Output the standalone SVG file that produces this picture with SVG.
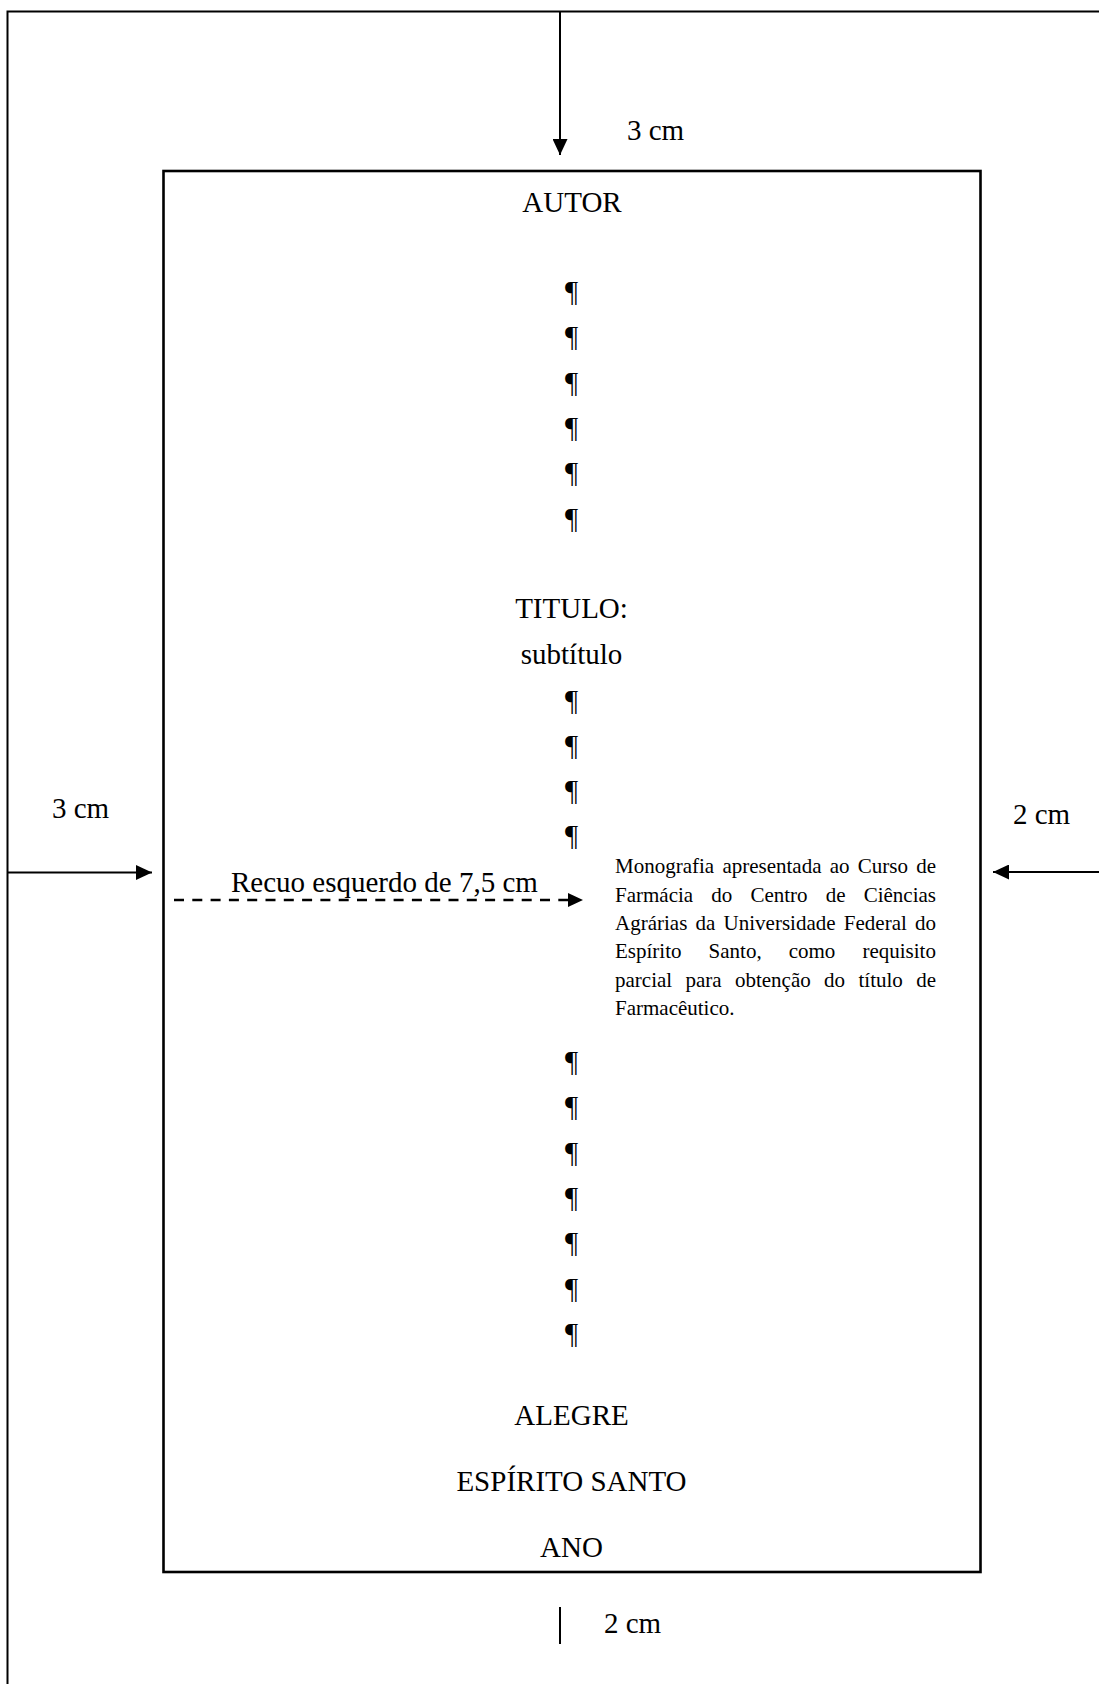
<svg xmlns="http://www.w3.org/2000/svg" width="1099" height="1684" viewBox="0 0 1099 1684">
  <style>
    .t { font-family: "Liberation Serif", "Times New Roman", serif; fill: #000; }
    .big { font-size: 29px; text-anchor: middle; }
    .lbl { font-size: 29px; }
    .pil { font-size: 29px; text-anchor: middle; }
    .small { font-size: 21px; }
    .ln { stroke: #000; stroke-width: 2; fill: none; }
  </style>
  <defs>
    <marker id="ah" markerUnits="userSpaceOnUse" markerWidth="16" markerHeight="15" refX="16" refY="7.5" orient="auto">
      <path d="M0,0 L16,7.5 L0,15 Z" fill="#000"/>
    </marker>
  </defs>
  <rect x="0" y="0" width="1099" height="1684" fill="#fff"/>

  <g id="outer-frame">
    <path class="ln" d="M1099,11.5 H7.5 V1684"/>
  </g>

  <g id="page">
    <rect x="163.5" y="171" width="817" height="1401" fill="none" stroke="#000" stroke-width="2.6"/>
  </g>

  <g id="autor"><text class="t big" x="572" y="211.5">AUTOR</text></g>

  <g id="pilcrows-top">
    <text class="t pil" x="571.5" y="301">¶</text>
    <text class="t pil" x="571.5" y="346.3">¶</text>
    <text class="t pil" x="571.5" y="391.6">¶</text>
    <text class="t pil" x="571.5" y="436.9">¶</text>
    <text class="t pil" x="571.5" y="482.2">¶</text>
    <text class="t pil" x="571.5" y="527.5">¶</text>
  </g>

  <g id="titulo">
    <text class="t big" x="571.5" y="618">TITULO:</text>
    <text class="t big" x="571.5" y="664">subtítulo</text>
  </g>

  <g id="pilcrows-mid">
    <text class="t pil" x="571.5" y="709.5">¶</text>
    <text class="t pil" x="571.5" y="754.8">¶</text>
    <text class="t pil" x="571.5" y="800.1">¶</text>
    <text class="t pil" x="571.5" y="845.4">¶</text>
  </g>

  <g id="nota">
    <text class="t small" x="615" y="873" word-spacing="3">Monografia apresentada ao Curso de</text>
    <text class="t small" x="615" y="901.5" word-spacing="12.9">Farmácia do Centro de Ciências</text>
    <text class="t small" x="615" y="930" word-spacing="3">Agrárias da Universidade Federal do</text>
    <text class="t small" x="615" y="958.3" word-spacing="21.8">Espírito Santo, como requisito</text>
    <text class="t small" x="615" y="986.7" word-spacing="8.1">parcial para obtenção do título de</text>
    <text class="t small" x="615" y="1015">Farmacêutico.</text>
  </g>

  <g id="pilcrows-bottom">
    <text class="t pil" x="571.5" y="1071">¶</text>
    <text class="t pil" x="571.5" y="1116.3">¶</text>
    <text class="t pil" x="571.5" y="1161.6">¶</text>
    <text class="t pil" x="571.5" y="1206.9">¶</text>
    <text class="t pil" x="571.5" y="1252.2">¶</text>
    <text class="t pil" x="571.5" y="1297.5">¶</text>
    <text class="t pil" x="571.5" y="1342.8">¶</text>
  </g>

  <g id="local">
    <text class="t big" x="571.5" y="1425">ALEGRE</text>
    <text class="t big" x="571.5" y="1491">ESPÍRITO SANTO</text>
    <text class="t big" x="571.5" y="1557">ANO</text>
  </g>

  <g id="labels">
    <text class="t lbl" x="627" y="140">3 cm</text>
    <text class="t lbl" x="52" y="818">3 cm</text>
    <text class="t lbl" x="1013" y="824">2 cm</text>
    <text class="t lbl" x="604" y="1633">2 cm</text>
    <text class="t lbl" x="231" y="891.5">Recuo esquerdo de 7,5 cm</text>
  </g>

  <g id="connectors">
    <line class="ln" x1="560" y1="11" x2="560" y2="155" marker-end="url(#ah)"/>
    <line class="ln" x1="8" y1="872.5" x2="152" y2="872.5" marker-end="url(#ah)"/>
    <line class="ln" x1="1099" y1="872" x2="993" y2="872" marker-end="url(#ah)"/>
    <line x1="174" y1="900" x2="568" y2="900" stroke="#000" stroke-width="2.6" stroke-dasharray="10 8.3"/>
    <path d="M568,893 L583,900 L568,907 Z" fill="#000"/>
    <line class="ln" x1="560" y1="1607" x2="560" y2="1644"/>
  </g>
</svg>
